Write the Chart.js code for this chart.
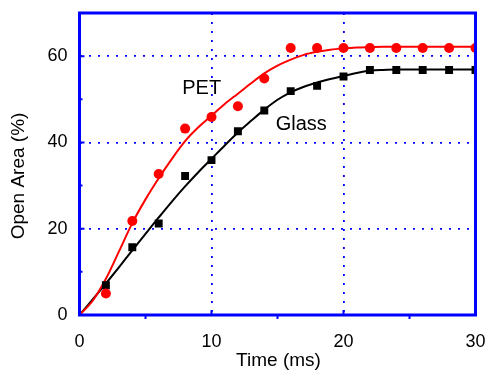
<!DOCTYPE html>
<html><head><meta charset="utf-8">
<script src="https://cdn.jsdelivr.net/npm/chart.js@4"></script>
<style>html,body{margin:0;padding:0;background:#fff}</style>
</head><body>
<canvas id="c" width="488" height="374"></canvas>
<script>
// ---- data ----
const timeMs        = [2, 4, 6, 8, 10, 12, 14, 16, 18, 20, 22, 24, 26, 28, 30];
const petMeasured   = [5.0, 21.8, 32.7, 43.2, 45.9, 48.4, 54.8, 61.9, 61.9, 61.9, 61.9, 61.9, 61.9, 61.9, 61.9];
const glassMeasured = [6.9, 15.7, 21.2, 32.2, 35.9, 42.6, 47.4, 51.9, 53.1, 55.3, 56.8, 56.8, 56.8, 56.8, 56.8];

const fitTime  = [0, 1, 2, 3, 4, 5, 6, 7, 8, 9, 10, 11, 12, 13, 14, 15, 16, 17, 18, 19, 20, 21, 22, 23, 24, 26, 28, 30];
const petFit   = [0, 3.3, 8.4, 14.8, 21.3, 26.8, 31.7, 36.2, 40.3, 43.5, 46.2, 48.9, 51.3, 53.7, 56.0, 57.8, 59.2, 60.3, 61.0, 61.5, 61.8, 62.0, 62.1, 62.2, 62.2, 62.2, 62.2, 62.2];
const glassFit = [0, 3.6, 7.3, 11.1, 15.0, 18.8, 22.6, 26.3, 29.8, 33.1, 36.2, 39.3, 42.3, 45.0, 47.6, 49.9, 51.6, 52.9, 53.9, 54.7, 55.4, 56.1, 56.6, 56.8, 56.9, 56.9, 56.9, 56.9];

const xTicks = [0, 10, 20, 30];
const yTicks = [0, 20, 40, 60];
const xMinor = [5, 15, 25];
const yMinor = [10, 30, 50];

const labels = [
  {text: 'PET',   x: 9.26, y: 52.5},
  {text: 'Glass', x: 16.8, y: 44.2}
];
const xTitle = 'Time (ms)';
const yTitle = 'Open Area (%)';

const BLUE = '#0000ff';
const FONT = "'Liberation Sans', Arial, sans-serif";

const pts = (xs, ys) => xs.map((x, i) => ({x, y: ys[i]}));
const noPad = s => { s.paddingLeft = 0; s.paddingRight = 0; s.paddingTop = 0; s.paddingBottom = 0; };

const decor = {
  id: 'decor',
  afterDatasetsDraw(chart) {
    const {ctx, chartArea: a, scales: {x, y}} = chart;
    ctx.save();
    ctx.strokeStyle = BLUE;
    ctx.lineWidth = 2;
    ctx.beginPath();
    yTicks.forEach(v => { const p = y.getPixelForValue(v); ctx.moveTo(a.left, p); ctx.lineTo(a.left + 5, p); });
    yMinor.forEach(v => { const p = y.getPixelForValue(v); ctx.moveTo(a.left, p); ctx.lineTo(a.left + 3, p); });
    xTicks.forEach(v => { const p = x.getPixelForValue(v); ctx.moveTo(p, a.bottom); ctx.lineTo(p, a.bottom - 5); });
    xMinor.forEach(v => { const p = x.getPixelForValue(v); ctx.moveTo(p, a.bottom); ctx.lineTo(p, a.bottom + 4); });
    ctx.stroke();
    ctx.lineWidth = 3;
    ctx.strokeRect(a.left, a.top, a.right - a.left, a.bottom - a.top);
    ctx.fillStyle = '#000';
    ctx.font = '20px ' + FONT;
    ctx.textAlign = 'center';
    ctx.textBaseline = 'middle';
    labels.forEach(l => ctx.fillText(l.text, x.getPixelForValue(l.x), y.getPixelForValue(l.y)));
    ctx.font = '19px ' + FONT;
    ctx.fillText(xTitle, (a.left + a.right) / 2 + 1, 361);
    ctx.translate(19, 176);
    ctx.rotate(-Math.PI / 2);
    ctx.fillText(yTitle, 0, 0);
    ctx.restore();
  }
};

new Chart(document.getElementById('c'), {
  type: 'scatter',
  data: {
    datasets: [
      {label: 'PET fit', data: pts(fitTime, petFit), showLine: true, borderColor: '#ff0000', borderWidth: 2,
       pointRadius: 0, cubicInterpolationMode: 'monotone', clip: 0, order: 3},
      {label: 'Glass fit', data: pts(fitTime, glassFit), showLine: true, borderColor: '#000', borderWidth: 2,
       pointRadius: 0, cubicInterpolationMode: 'monotone', clip: 0, order: 4},
      {label: 'PET', data: pts(timeMs, petMeasured), pointStyle: 'circle', pointRadius: 5,
       backgroundColor: '#ff0000', borderColor: '#ff0000', borderWidth: 0, clip: 0, order: 1},
      {label: 'Glass', data: pts(timeMs, glassMeasured), pointStyle: 'rect', pointRadius: 5.6,
       backgroundColor: '#000', borderColor: '#000', borderWidth: 0, clip: 0, order: 2}
    ]
  },
  options: {
    responsive: false,
    animation: false,
    devicePixelRatio: 1,
    layout: {padding: {top: 13, right: 12.5, left: 0, bottom: 0}},
    plugins: {legend: {display: false}, tooltip: {enabled: false}},
    scales: {
      x: {
        type: 'linear', min: 0, max: 30,
        afterBuildTicks: s => { s.ticks = xTicks.map(v => ({value: v})); },
        afterFit: s => { s.height = 59; noPad(s); },
        grid: {color: BLUE, lineWidth: 1.8, drawTicks: false},
        border: {display: false, dash: [2, 7]},
        ticks: {color: '#000', font: {family: FONT, size: 18}, padding: 16, maxRotation: 0}
      },
      y: {
        type: 'linear', min: 0, max: 70,
        afterBuildTicks: s => { s.ticks = yTicks.map(v => ({value: v})); },
        afterFit: s => { s.width = 79.5; noPad(s); },
        grid: {color: BLUE, lineWidth: 1.8, drawTicks: false},
        border: {display: false, dash: [2, 7]},
        ticks: {color: '#000', font: {family: FONT, size: 18}, padding: 12}
      }
    }
  },
  plugins: [decor]
});
</script>
</body></html>
